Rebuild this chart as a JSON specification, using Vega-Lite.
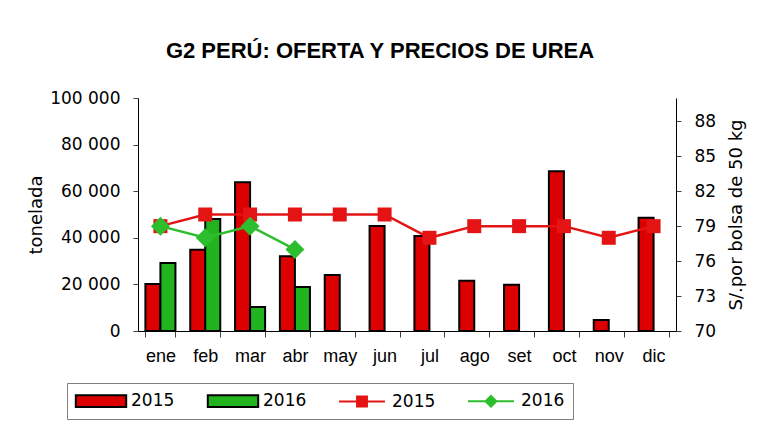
{
  "$schema": "https://vega.github.io/schema/vega-lite/v6.json",
  "width": 538,
  "height": 233,
  "autosize": "none",
  "padding": {"left": 138, "top": 98, "right": 90, "bottom": 96},
  "background": "white",
  "config": {
    "view": {"stroke": null},
    "font": "Liberation Sans",
    "locale": {"number": {"decimal": ",", "thousands": " ", "grouping": [3], "currency": ["", ""]}},
    "axis": {"labelFont": "DejaVu Sans", "labelFontSize": 17, "labelColor": "black", "titleFont": "DejaVu Sans", "titleFontSize": 18, "titleFontWeight": "normal", "titleColor": "black", "domainColor": "black", "tickColor": "#404040", "grid": false, "labelOverlap": false}
  },
  "title": {"text": "G2  PERÚ: OFERTA Y PRECIOS DE UREA", "font": "Liberation Sans", "fontSize": 22, "fontWeight": "bold", "color": "black", "anchor": "middle", "dx": -27, "offset": 26},
  "datasets": {
    "bars": [
      {"mes": "ene", "serie": "b2015", "ton": 20200},
      {"mes": "ene", "serie": "b2016", "ton": 29200},
      {"mes": "feb", "serie": "b2015", "ton": 34900},
      {"mes": "feb", "serie": "b2016", "ton": 48100},
      {"mes": "mar", "serie": "b2015", "ton": 63800},
      {"mes": "mar", "serie": "b2016", "ton": 10300},
      {"mes": "abr", "serie": "b2015", "ton": 32100},
      {"mes": "abr", "serie": "b2016", "ton": 18900},
      {"mes": "may", "serie": "b2015", "ton": 24000},
      {"mes": "jun", "serie": "b2015", "ton": 45100},
      {"mes": "jul", "serie": "b2015", "ton": 40800},
      {"mes": "ago", "serie": "b2015", "ton": 21600},
      {"mes": "set", "serie": "b2015", "ton": 19900},
      {"mes": "oct", "serie": "b2015", "ton": 68600},
      {"mes": "nov", "serie": "b2015", "ton": 4700},
      {"mes": "dic", "serie": "b2015", "ton": 48600}
    ],
    "precios": [
      {"mes": "ene", "serie": "l2015", "precio": 79},
      {"mes": "feb", "serie": "l2015", "precio": 80},
      {"mes": "mar", "serie": "l2015", "precio": 80},
      {"mes": "abr", "serie": "l2015", "precio": 80},
      {"mes": "may", "serie": "l2015", "precio": 80},
      {"mes": "jun", "serie": "l2015", "precio": 80},
      {"mes": "jul", "serie": "l2015", "precio": 78},
      {"mes": "ago", "serie": "l2015", "precio": 79},
      {"mes": "set", "serie": "l2015", "precio": 79},
      {"mes": "oct", "serie": "l2015", "precio": 79},
      {"mes": "nov", "serie": "l2015", "precio": 78},
      {"mes": "dic", "serie": "l2015", "precio": 79},
      {"mes": "ene", "serie": "l2016", "precio": 79},
      {"mes": "feb", "serie": "l2016", "precio": 78},
      {"mes": "mar", "serie": "l2016", "precio": 79},
      {"mes": "abr", "serie": "l2016", "precio": 77}
    ]
  },
  "layer": [
    {
      "data": {"name": "bars"},
      "mark": {"type": "bar", "stroke": "black", "strokeWidth": 2, "opacity": 1},
      "encoding": {
        "x": {
          "field": "mes", "type": "nominal",
          "sort": ["ene", "feb", "mar", "abr", "may", "jun", "jul", "ago", "set", "oct", "nov", "dic"],
          "scale": {"paddingInner": 0.33, "paddingOuter": 0.165},
          "axis": {"title": null, "labelAngle": 0, "labelFont": "Liberation Sans", "labelFontSize": 18, "tickBand": "extent", "tickSize": 6, "labelPadding": 10, "domainWidth": 1}
        },
        "xOffset": {"field": "serie", "type": "nominal", "scale": {"domain": ["b2015", "b2016"], "paddingInner": 0, "paddingOuter": 0}},
        "y": {
          "field": "ton", "type": "quantitative",
          "scale": {"domain": [0, 100000]},
          "axis": {"title": "tonelada", "values": [0, 20000, 40000, 60000, 80000, 100000], "format": ",d", "tickSize": 5, "labelPadding": 13, "titlePadding": 4}
        },
        "color": {
          "field": "serie", "type": "nominal",
          "scale": {"domain": ["b2015", "b2016", "l2015", "l2016"], "range": ["#DD0000", "#22B41E", "#E41414", "#2DBE2D"]},
          "legend": {
            "orient": "none", "legendX": -71, "legendY": 285,
            "direction": "horizontal", "columns": 4, "title": null,
            "labelExpr": "slice(datum.label, 1)",
            "labelFont": "DejaVu Sans", "labelFontSize": 17, "labelColor": "black",
            "symbolSize": 324, "symbolOffset": 16, "labelOffset": 20, "columnPadding": 28,
            "symbolStrokeWidth": 2, "symbolOpacity": 1,
            "symbolType": {"expr": "datum.value == 'b2015' || datum.value == 'b2016' ? 'M-2.8,-0.65H2.8V0.65H-2.8Z' : datum.value == 'l2015' ? 'M-2.55,0H2.55M-0.55,-0.55H0.55V0.55H-0.55Z' : 'M-2.55,0H2.55M0,-0.6L0.6,0L0,0.6L-0.6,0Z'"},
            "symbolStrokeColor": {"expr": "datum.value == 'b2015' || datum.value == 'b2016' ? 'black' : datum.value == 'l2015' ? '#E41414' : '#2DBE2D'"},
            "strokeColor": "#808080", "padding": 8
          }
        }
      }
    },
    {
      "data": {"name": "precios"},
      "encoding": {
        "x": {"field": "mes", "type": "nominal", "sort": ["ene", "feb", "mar", "abr", "may", "jun", "jul", "ago", "set", "oct", "nov", "dic"]},
        "y": {
          "field": "precio", "type": "quantitative",
          "scale": {"domain": [70, 90]},
          "axis": {"orient": "right", "title": "S/.por bolsa de 50 kg", "titleAngle": 270, "values": [70, 73, 76, 79, 82, 85, 88], "tickSize": 5, "labelPadding": 13, "titlePadding": 30}
        }
      },
      "layer": [
        {
          "mark": {"type": "line", "strokeWidth": 2.5},
          "encoding": {
            "stroke": {"field": "serie", "type": "nominal", "scale": {"domain": ["l2015", "l2016"], "range": ["#E41414", "#2DBE2D"]}, "legend": null}
          }
        },
        {
          "transform": [{"filter": "datum.serie == 'l2015'"}],
          "mark": {"type": "point", "filled": true, "opacity": 1, "shape": "square", "size": 196, "color": "#E41414"}
        },
        {
          "transform": [{"filter": "datum.serie == 'l2016'"}],
          "mark": {"type": "point", "filled": true, "opacity": 1, "shape": "diamond", "size": 361, "color": "#2DBE2D"}
        }
      ]
    }
  ],
  "resolve": {"scale": {"y": "independent"}}
}
